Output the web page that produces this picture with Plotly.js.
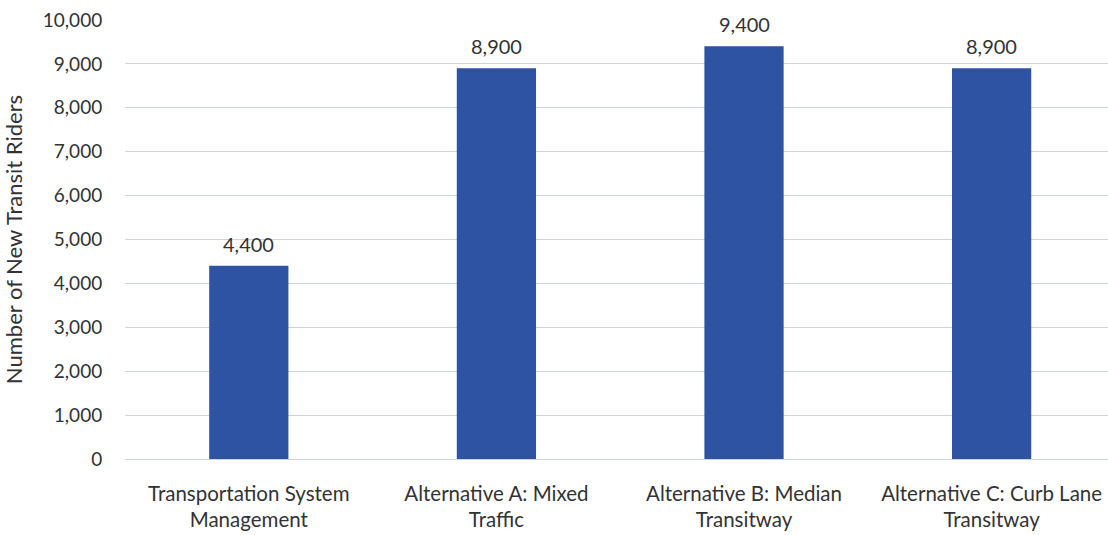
<!DOCTYPE html>
<html>
<head>
<meta charset="utf-8">
<script src="https://cdn.plot.ly/plotly-3.0.1.min.js"></script>
<style>html,body{margin:0;padding:0;background:#fff;}#chart{width:1108px;height:535px;}</style>
</head>
<body>
<div id="chart"></div>
<script>
const categories = [
  "Transportation System<br>Management",
  "Alternative A: Mixed<br>Traffic",
  "Alternative B: Median<br>Transitway",
  "Alternative C: Curb Lane<br>Transitway"
];
const riders = [4400, 8900, 9400, 8900];
const yTicks = [0,1000,2000,3000,4000,5000,6000,7000,8000,9000,10000];
const yTickText = ["0","1,000","2,000","3,000","4,000","5,000","6,000","7,000","8,000","9,000","10,000"];

const font = "Lato, 'Open Sans', sans-serif";
const trace = {
  type: "bar",
  x: categories,
  y: riders,
  marker: {color: "#2F53A3"},
  width: 0.32,
  hoverinfo: "skip"
};
const annotations = categories.map((c, i) => ({
  x: c, y: riders[i], xref: "x", yref: "y",
  text: riders[i].toLocaleString("en-US"),
  showarrow: false, yshift: 22,
  font: {family: font, size: 20, color: "#333"}
}));
const layout = {
  width: 1108, height: 535,
  margin: {l: 125, r: 0, t: 20, b: 76},
  paper_bgcolor: "#fff", plot_bgcolor: "#fff",
  showlegend: false,
  font: {family: font, color: "#333", size: 20},
  xaxis: {
    range: [-0.5, 3.47],
    showgrid: false, zeroline: false, showline: false,
    ticks: "outside", ticklen: 16, tickcolor: "rgba(0,0,0,0)",
    tickfont: {family: font, size: 20.5, color: "#333"}
  },
  yaxis: {
    range: [0, 10000],
    tickvals: yTicks, ticktext: yTickText,
    showgrid: true, gridcolor: "#ccd3e6", gridwidth: 1,
    zeroline: true, zerolinecolor: "#ccd3e6", zerolinewidth: 1,
    showline: false,
    ticks: "outside", ticklen: 18, tickcolor: "rgba(0,0,0,0)",
    tickfont: {family: font, size: 19, color: "#333"},
    title: {text: "Number of New Transit Riders", font: {family: font, size: 22, color: "#333"}, standoff: 14}
  },
  annotations: annotations
};
Plotly.newPlot("chart", [trace], layout, {displayModeBar: false, staticPlot: true});
</script>
</body>
</html>
